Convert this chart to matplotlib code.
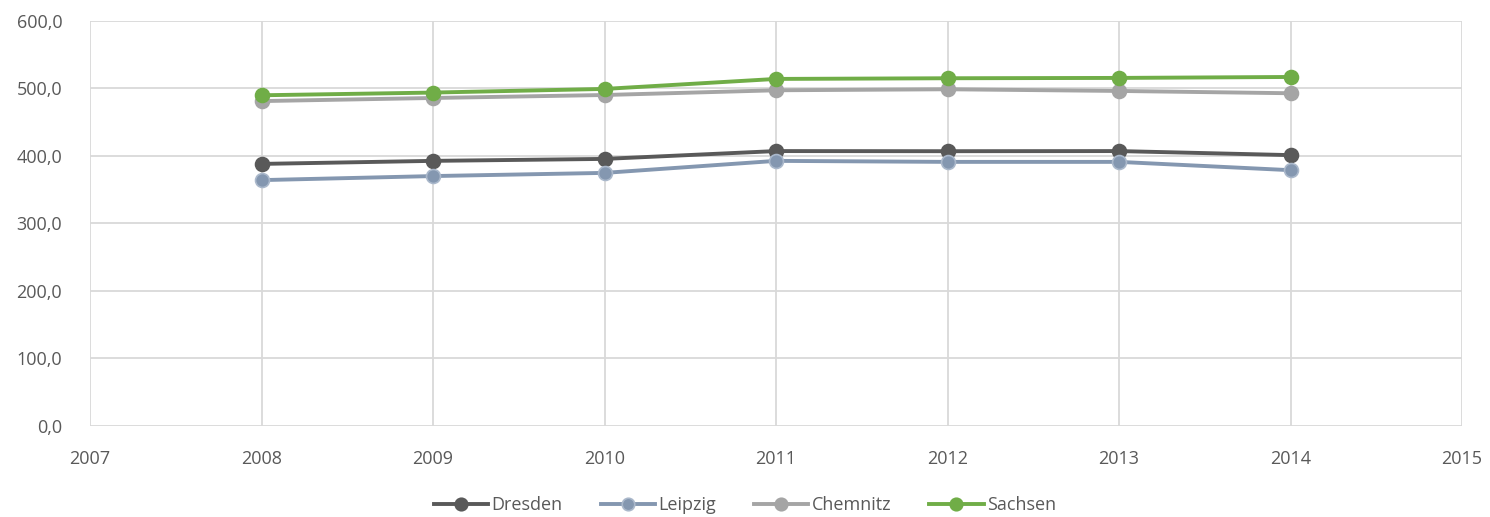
import matplotlib
matplotlib.use("Agg")
from matplotlib import pyplot as plt
from matplotlib.ticker import FuncFormatter

years = [2008, 2009, 2010, 2011, 2012, 2013, 2014]
dresden = [388.0, 392.5, 395.4, 407.0, 406.8, 407.0, 401.0]
leipzig = [364.0, 370.0, 374.7, 392.5, 391.0, 391.0, 378.7]
chemnitz = [481.0, 485.6, 490.0, 497.0, 498.5, 496.0, 492.6]
sachsen = [489.6, 493.6, 499.0, 513.8, 514.8, 515.3, 516.7]

series = [
    ("Dresden", dresden, "#595959", "#595959"),
    ("Leipzig", leipzig, "#8497b0", "#aab8cb"),
    ("Chemnitz", chemnitz, "#a5a5a5", "#a5a5a5"),
    ("Sachsen", sachsen, "#70ad47", "#70ad47"),
]

plt.rcParams['font.family'] = ['Open Sans', 'DejaVu Sans']

fig = plt.figure(figsize=(14.9, 5.17), dpi=100)
ax = fig.add_axes([90 / 1490, 91 / 517, 1372 / 1490, 405.3 / 517])

for name, vals, col, edge in series:
    ax.plot(years, vals, color=col, linewidth=2.8, marker='o', markersize=10,
            markerfacecolor=col, markeredgecolor=edge, markeredgewidth=1.2,
            label=name, zorder=3)

ax.set_xlim(2007, 2015)
ax.set_ylim(0, 600)
ax.set_xticks(range(2007, 2016))
ax.set_yticks(range(0, 601, 100))
ax.yaxis.set_major_formatter(FuncFormatter(lambda v, p: f"{v:.1f}".replace('.', ',')))

# Excel style grid, no spines
ax.grid(True, color='#d9d9d9', linewidth=1.3, zorder=0)
for s in ax.spines.values():
    s.set_visible(False)
ax.tick_params(length=0, labelsize=13, colors='#595959')
ax.tick_params(axis='x', pad=17)
ax.tick_params(axis='y', pad=20)

handles, labels = ax.get_legend_handles_labels()
fig.legend(handles, labels, loc='center', bbox_to_anchor=(0.5, 12 / 517), ncol=4,
           frameon=False, fontsize=13, labelcolor='#595959', handlelength=3.0,
           handletextpad=0.2, columnspacing=2.1, markerscale=0.9)

fig.savefig("out.png", dpi=100)
